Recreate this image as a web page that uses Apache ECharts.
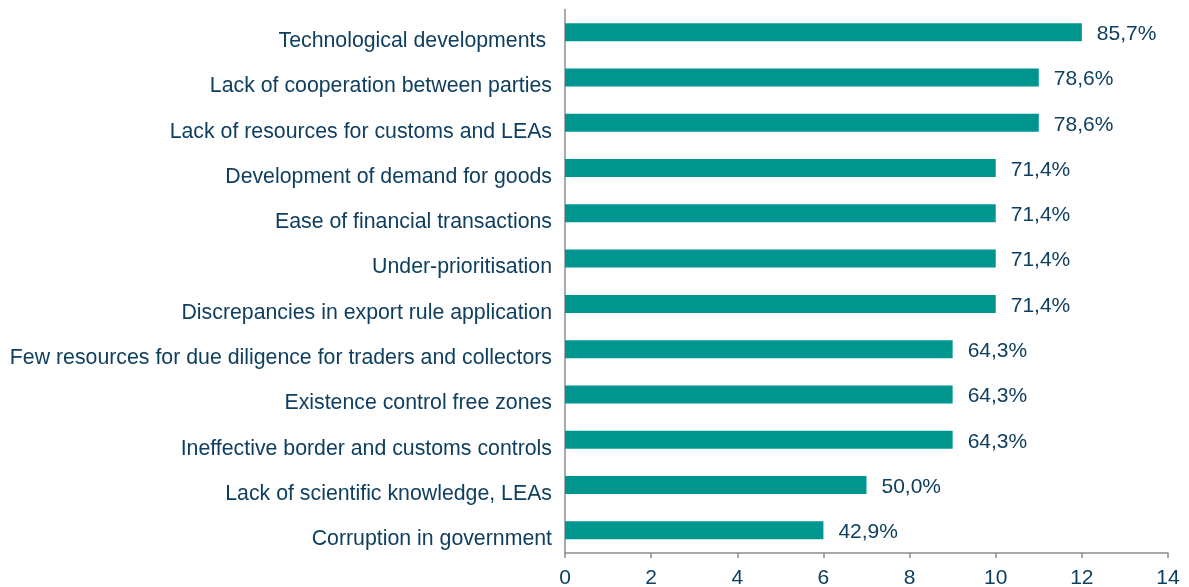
<!DOCTYPE html>
<html>
<head>
<meta charset="utf-8">
<script src="https://cdn.jsdelivr.net/npm/echarts@6/dist/echarts.min.js"></script>
<style>
  html, body { margin: 0; padding: 0; background: #fff; }
  #chart { width: 1189px; height: 587px; }
</style>
</head>
<body>
<div id="chart"></div>
<script>
// data, top to bottom
const categories = [
  'Technological developments ',
  'Lack of cooperation between parties',
  'Lack of resources for customs and LEAs',
  'Development of demand for goods',
  'Ease of financial transactions',
  'Under-prioritisation',
  'Discrepancies in export rule application',
  'Few resources for due diligence for traders and collectors',
  'Existence control free zones',
  'Ineffective border and customs controls',
  'Lack of scientific knowledge, LEAs',
  'Corruption in government'
];
const counts = [12, 11, 11, 10, 10, 10, 10, 9, 9, 9, 7, 6];
const shareLabels = ['85,7%', '78,6%', '78,6%', '71,4%', '71,4%', '71,4%', '71,4%', '64,3%', '64,3%', '64,3%', '50,0%', '42,9%'];

const textColor = '#0f3f60';
const axisColor = '#8c8c8c';

const chart = echarts.init(document.getElementById('chart'));
chart.setOption({
  animation: false,
  textStyle: { fontFamily: 'Liberation Sans, Arial, sans-serif' },
  grid: { left: 565, right: 21, top: 9.5, bottom: 34, containLabel: false, outerBoundsMode: 'none' },
  xAxis: {
    type: 'value',
    min: 0,
    max: 14,
    interval: 2,
    splitLine: { show: false },
    axisLine: { show: true, lineStyle: { color: axisColor, width: 1.5 } },
    axisTick: { show: true, length: 5, lineStyle: { color: axisColor, width: 1.5 } },
    axisLabel: { color: textColor, fontSize: 21, margin: 15 }
  },
  yAxis: {
    type: 'category',
    inverse: true,
    data: categories,
    axisLine: { show: true, lineStyle: { color: axisColor, width: 1.5 } },
    axisTick: { show: false },
    axisLabel: {
      color: textColor,
      fontSize: 21.3,
      margin: 13,
      lineHeight: 18,
      // labels sit a little below the bar centre in the original
      formatter: v => '\n' + v
    }
  },
  series: [{
    type: 'bar',
    data: counts,
    barWidth: 18,
    itemStyle: { color: '#009690' },
    label: {
      show: true,
      position: 'right',
      distance: 15,
      offset: [0, 2],
      color: textColor,
      fontSize: 21,
      formatter: p => shareLabels[p.dataIndex]
    }
  }]
});
</script>
</body>
</html>
